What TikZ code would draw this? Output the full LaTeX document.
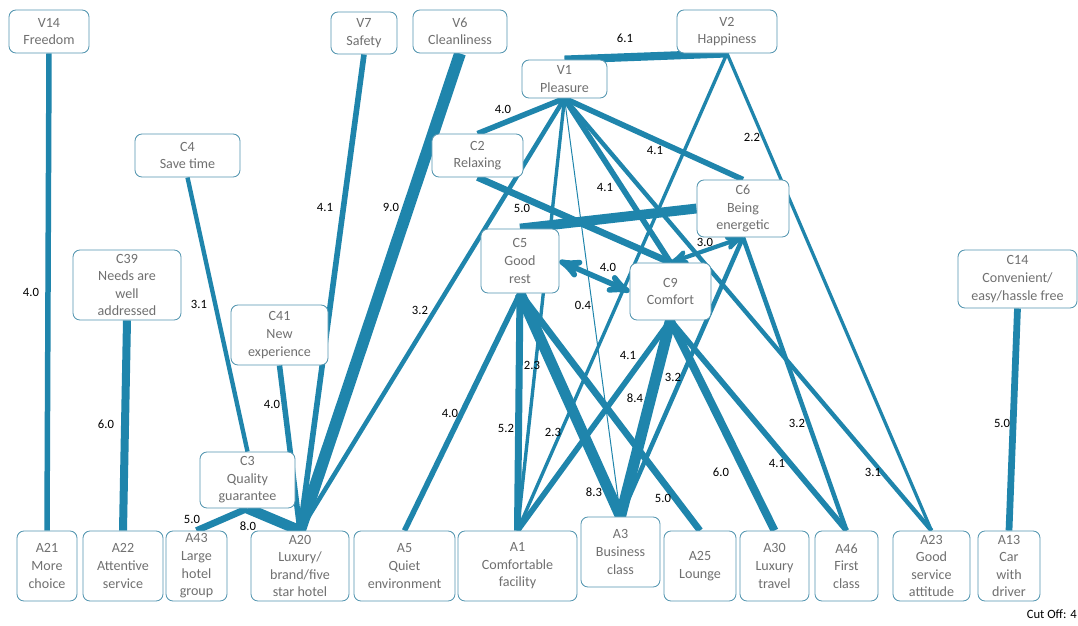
\documentclass[tikz,border=0pt]{standalone}
\usepackage{fontspec}
\setmainfont{Carlito}
\usepackage{tikz}
\usetikzlibrary{arrows,shapes,backgrounds}
\definecolor{lnk}{RGB}{31,133,172}
\definecolor{boxline}{RGB}{84,150,176}
\definecolor{txtgrey}{RGB}{112,112,112}
\tikzstyle{concept}=[draw=boxline,line width=0.6pt,rounded corners=5pt,fill=white,text=txtgrey,align=center,inner sep=0pt,font=\fontsize{10}{12.5}\selectfont,minimum height=1.075cm]
\tikzstyle{attr}=[concept,minimum height=1.75cm]
\tikzstyle{wlabel}=[inner sep=0pt,font=\fontsize{9}{10}\selectfont]
\tikzset{edge/.style={draw=lnk,line width={0.89*#1pt+0.35pt}}}

\begin{document}
\begin{tikzpicture}[x=0.025cm,y=-0.025cm]
        \useasboundingbox (0,0) rectangle (1078,625);
        % values
        \node[concept,minimum width=2cm] (V14) at (49,31.5) {V14\\Freedom};
        \node[concept,minimum width=1.65cm,minimum height=1.05cm] (V7) at (364,33) {V7\\Safety};
        \node[concept,minimum width=2.35cm] (V6) at (460,31.5) {V6\\Cleanliness};
        \node[concept,minimum width=2.5cm] (V2) at (727,31.5) {V2\\Happiness};
        \node[concept,minimum width=2.125cm,minimum height=0.95cm] (V1) at (564.5,79) {V1\\Pleasure};
        % consequences
        \node[concept,minimum width=2.625cm] (C4) at (187.5,155.5) {C4\\Save time};
        \node[concept,minimum width=2.275cm] (C2) at (477.5,155.5) {C2\\Relaxing};
        \node[concept,minimum width=2.3cm,minimum height=1.425cm] (C6) at (743,208.5) {C6\\Being\\energetic};
        \node[concept,minimum width=1.95cm,minimum height=1.6cm] (C5) at (520,261) {C5\\Good\\rest};
        \node[concept,minimum width=2.025cm,minimum height=1.425cm] (C9) at (670.5,291.5) {C9\\Comfort};
        \node[concept,minimum width=2.975cm,minimum height=1.45cm] (C14) at (1017.5,279) {C14\\Convenient/\\easy/hassle free};
        \node[concept,minimum width=2.7cm,minimum height=1.75cm] (C39) at (127,285) {C39\\Needs are\\well\\addressed};
        \node[concept,minimum width=2.425cm,minimum height=1.5cm] (C41) at (279.5,335) {C41\\New\\experience};
        \node[concept,minimum width=2.375cm,minimum height=1.4cm] (C3) at (247.5,480) {C3\\Quality\\guarantee};
        % attributes
        \node[attr,minimum width=1.5cm] (A21) at (47,566) {A21\\More\\choice};
        \node[attr,minimum width=2cm] (A22) at (123,566) {A22\\Attentive\\service};
        \node[attr,minimum width=1.525cm] (A43) at (196.5,566) {A43\\Large\\hotel\\group};
        \node[attr,minimum width=2.45cm] (A20) at (300,566) {A20\\Luxury/\\brand/five\\star hotel};
        \node[attr,minimum width=2.525cm] (A5) at (404.5,566) {A5\\Quiet\\environment};
        \node[attr,minimum width=2.975cm] (A1) at (517.5,566) {A1\\Comfortable\\facility};
        \node[attr,minimum width=1.975cm] (A3) at (620.5,552) {A3\\Business\\class};
        \node[attr,minimum width=1.8cm] (A25) at (700,566) {A25\\Lounge};
        \node[attr,minimum width=1.725cm] (A30) at (774.5,566) {A30\\Luxury\\travel};
        \node[attr,minimum width=1.575cm] (A46) at (846.5,566) {A46\\First\\class};
        \node[attr,minimum width=1.925cm] (A23) at (931.5,566) {A23\\Good\\service\\attitude};
        \node[attr,minimum width=1.55cm] (A13) at (1009,566) {A13\\Car\\with\\driver};

        \begin{pgfonlayer}{background}
        \fill[white] (0,0) rectangle (1078,625);
        \draw[edge=4.0] (V14.south) to (A21.north);
        \draw[edge=6.0] (C39.south) to (A22.north);
        \draw[edge=3.1] (C4.south) to (C3.north);
        \draw[edge=4.0] (C41.south) to (A20.north);
        \draw[edge=4.1] (V7.south) to (A20.north);
        \draw[edge=9.0] (V6.south) to (A20.north);
        \draw[edge=5.0] (C3.south) to (A43.north);
        \draw[edge=8.0] (C3.south) to (A20.north);
        \draw[edge=6.1] (V2.south) to (V1.north);
        \draw[edge=4.0] (V1.south) to (C2.north);
        \draw[edge=3.2] (V1.south) to (A20.north);
        \draw[edge=2.3] (V1.south) to (A1.north);
        \draw[edge=0.4] (V1.south) to (A3.north);
        \draw[edge=4.1] (V1.south) to (C9.north);
        \draw[edge=4.1] (V1.south) to (C6.north);
        \draw[edge=3.1] (V1.south) to (A23.north);
        \draw[edge=2.3] (V2.south) to (A1.north);
        \draw[edge=2.2] (V2.south) to (A23.north);
        \draw[edge=5.0] (C2.south) to (C9.north);
        \draw[edge=7.5] (C6.west) to (C5.north);
        \draw[edge=4.0,<->,>=stealth'] (C5.east) to (C9.west);
        \draw[edge=3.0,<->,>=stealth'] (C6.south) to (C9.north);
        \draw[edge=4.0] (C5.south) to (A5.north);
        \draw[edge=5.2] (C5.south) to (A1.north);
        \draw[edge=8.3] (C5.south) to (A3.north);
        \draw[edge=5.0] (C5.south) to (A25.north);
        \draw[edge=4.1] (C9.south) to (A1.north);
        \draw[edge=8.4] (C9.south) to (A3.north);
        \draw[edge=6.0] (C9.south) to (A30.north);
        \draw[edge=4.1] (C9.south) to (A46.north);
        \draw[edge=3.2] (C6.south) to (A3.north);
        \draw[edge=3.2] (C6.south) to (A46.north);
        \draw[edge=5.0] (C14.south) to (A13.north);
        \end{pgfonlayer}

        % weights
        \node[wlabel] (w1) at (31,292) {4.0};
        \node[wlabel] (w2) at (106,424) {6.0};
        \node[wlabel] (w3) at (199,304) {3.1};
        \node[wlabel] (w4) at (272,404) {4.0};
        \node[wlabel] (w5) at (325,207) {4.1};
        \node[wlabel] (w6) at (391,207) {9.0};
        \node[wlabel] (w7) at (192,519) {5.0};
        \node[wlabel] (w8) at (248,526) {8.0};
        \node[wlabel] (w9) at (625,38) {6.1};
        \node[wlabel] (w10) at (503,109) {4.0};
        \node[wlabel] (w11) at (420,310) {3.2};
        \node[wlabel] (w12) at (532,365) {2.3};
        \node[wlabel] (w13) at (583,305) {0.4};
        \node[wlabel] (w14) at (605,187) {4.1};
        \node[wlabel] (w15) at (655,150) {4.1};
        \node[wlabel] (w16) at (873,472) {3.1};
        \node[wlabel] (w17) at (553,432) {2.3};
        \node[wlabel] (w18) at (752,137) {2.2};
        \node[wlabel] (w19) at (522,208) {5.0};
        \node[wlabel] (w20) at (608,267) {4.0};
        \node[wlabel] (w21) at (705,242) {3.0};
        \node[wlabel] (w22) at (450,413) {4.0};
        \node[wlabel] (w23) at (506,428) {5.2};
        \node[wlabel] (w24) at (594,492) {8.3};
        \node[wlabel] (w25) at (663,498) {5.0};
        \node[wlabel] (w26) at (628,355) {4.1};
        \node[wlabel] (w27) at (635,398) {8.4};
        \node[wlabel] (w28) at (721,472) {6.0};
        \node[wlabel] (w29) at (777,463) {4.1};
        \node[wlabel] (w30) at (673,377) {3.2};
        \node[wlabel] (w31) at (797,423) {3.2};
        \node[wlabel] (w32) at (1002,423) {5.0};
        \node[wlabel,anchor=east] (cutoff) at (1077,614) {Cut Off: 4};
      \end{tikzpicture}
\end{document}
